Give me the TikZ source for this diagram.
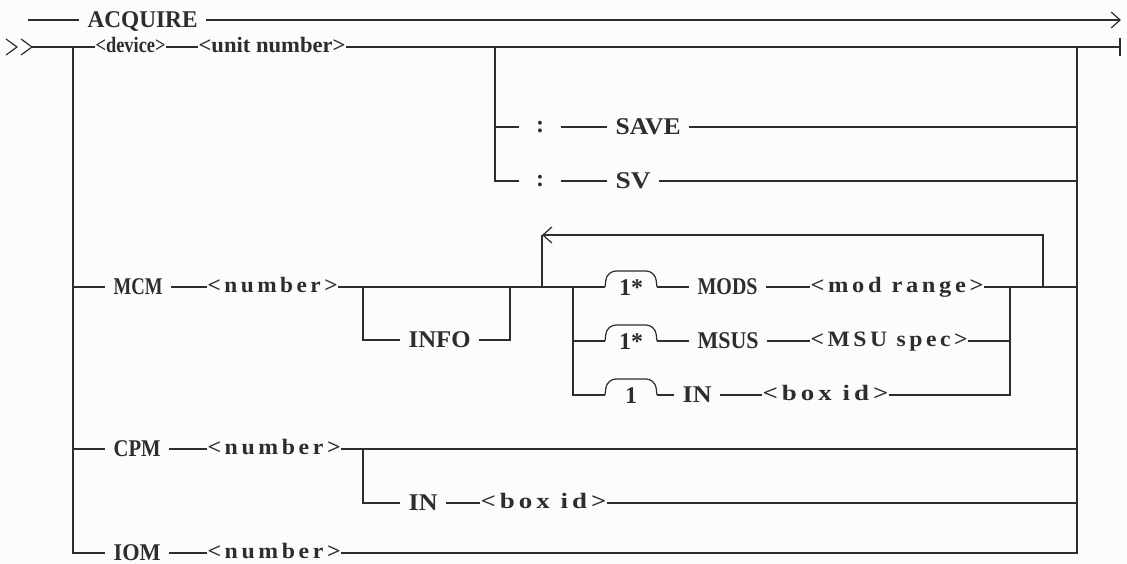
\documentclass[tikz,border=0pt]{standalone}
\usepackage{fontspec}
\setmainfont{Liberation Serif}
\newfontfamily\phfam[LetterSpace=15]{Liberation Serif}
\usepackage{graphicx}
\usetikzlibrary{arrows.meta}
\definecolor{ink}{RGB}{45,45,45}
\definecolor{paper}{RGB}{252,252,250}
\newcommand\kwf{\fontsize{24}{26}\selectfont\bfseries}
\newcommand\phf{\phfam\fontsize{22}{24}\selectfont\bfseries}
\newcommand\phtf{\fontsize{22}{24}\selectfont\bfseries}
\newcommand\fitto[2]{\resizebox{#1pt}{\height}{#2}}
\tikzset{
  kw/.style={anchor=west, inner xsep=8pt, inner ysep=0pt, text height=15.9pt, text depth=0pt, font=\kwf, text=ink},
  ph/.style={anchor=west, inner xsep=0pt, inner ysep=0pt, text height=11pt, text depth=0pt, font=\phf, text=ink},
  pht/.style={ph, font=\phtf},
  colonnode/.style={anchor=center, inner sep=0pt, minimum width=40pt, text height=11pt, text depth=0pt, font=\kwf, text=ink},
  repnode/.style={anchor=center, inner sep=0pt, text height=16pt, text depth=0pt, font=\kwf, text=ink},
  hump/.style={rounded corners=9pt},
  openarrow/.style={-{Straight Barb[length=9pt,width=16pt,line width=1.2pt]}},
}
\begin{document}
\begin{tikzpicture}[x=1pt,y=-1pt,line width=1.2pt,draw=ink]
\useasboundingbox[fill=paper] (0,0) rectangle (1127,564);
% top line
\coordinate (a0) at (28,20);
\node[kw] (acq) at (79,20) {\fitto{110}{ACQUIRE}};
\coordinate (a1) at (1121,20);
\draw (a0) -- (acq.west);
\draw[openarrow] (acq.east) -- (a1);
% start chevrons
\draw (6,39) -- (17,47) -- (6,55);
\draw (21,39) -- (32,47) -- (21,55);
\coordinate (start) at (32,47);
% row 1
\coordinate (tr1) at (73,47);
\node[pht] (dev) at (95,47) {\fitto{70}{<device>}};
\node[pht] (unit) at (198,47) {\fitto{147}{<unit number>}};
\coordinate (sb) at (495,47);
\coordinate (rc1) at (1077,47);
\coordinate (fin) at (1120,47);
\draw (start) -- (tr1) -- (dev.west);
\draw (dev.east) -- (unit.west);
\draw (unit.east) -- (fin);
\draw ([yshift=-9pt]fin) -- ([yshift=9pt]fin);
% SAVE / SV
\coordinate (sv1) at (495,127);
\coordinate (sv2) at (495,181);
\node[colonnode] (c1) at (540,127) {:};
\node[kw] (save) at (607,127) {\fitto{65}{SAVE}};
\coordinate (rs1) at (1077,127);
\node[colonnode] (c2) at (540,181) {:};
\node[kw] (sv) at (607,181) {\fitto{35}{SV}};
\coordinate (rs2) at (1077,181);
\draw (sb) -- (sv2) -- (c2.west);
\draw (sv1) -- (c1.west);
\draw (c1.east) -- (save.west);
\draw (save.east) -- (rs1);
\draw (c2.east) -- (sv.west);
\draw (sv.east) -- (rs2);
% MCM row
\coordinate (tm) at (73,287);
\node[kw] (mcm) at (105,287) {\fitto{49}{MCM}};
\node[ph] (mnum) at (207,287) {\fitto{130}{<number>}};
\coordinate (ib) at (363,287);
\coordinate (ir) at (510,287);
\coordinate (lp) at (542,287);
\coordinate (gb) at (573,287);
\draw (tm) -- (mcm.west);
\draw (mcm.east) -- (mnum.west);
\draw (mnum.east) -- (gb);
% INFO
\coordinate (ib2) at (363,340);
\node[kw] (info) at (400,340) {\fitto{62}{INFO}};
\coordinate (ir2) at (510,340);
\draw (ib) -- (ib2) -- (info.west);
\draw (info.east) -- (ir2) -- (ir);
% loop back
\coordinate (lt) at (542,235);
\coordinate (lrt) at (1043,235);
\coordinate (lrb) at (1043,287);
\draw (lp) -- (lt);
\draw[openarrow] (lrb) -- (lrt) -- (lt);
% group row 1: MODS
\coordinate (h1a) at (605,287);
\coordinate (h1b) at (657,287);
\draw (gb) -- (h1a);
\draw[hump] (h1a) -- ++(2,-16) -- ++(48,0) -- (h1b);
\node[repnode] (n1) at (631,287) {1*};
\node[kw] (mods) at (689,287) {\fitto{60}{MODS}};
\node[ph] (mr) at (810,287) {\fitto{173}{<mod range>}};
\coordinate (gc1) at (1010,287);
\coordinate (rm) at (1077,287);
\draw (h1b) -- (mods.west);
\draw (mods.east) -- (mr.west);
\draw (mr.east) -- (rm);
% group row 2: MSUS
\coordinate (g2) at (573,341);
\coordinate (h2a) at (605,341);
\coordinate (h2b) at (657,341);
\draw (g2) -- (h2a);
\draw[hump] (h2a) -- ++(2,-16) -- ++(48,0) -- (h2b);
\node[repnode] (n2) at (631,341) {1*};
\node[kw] (msus) at (689,341) {\fitto{61}{MSUS}};
\node[ph] (ms) at (810,341) {\fitto{157}{<MSU spec>}};
\coordinate (gc2) at (1010,341);
\draw (h2b) -- (msus.west);
\draw (msus.east) -- (ms.west);
\draw (ms.east) -- (gc2);
% group row 3: IN
\coordinate (g3) at (573,395);
\coordinate (h3a) at (605,395);
\coordinate (h3b) at (657,395);
\draw (gb) -- (g3) -- (h3a);
\draw[hump] (h3a) -- ++(2,-16) -- ++(48,0) -- (h3b);
\node[repnode] (n3) at (631,395) {1};
\node[kw] (in1) at (674,395) {\fitto{29}{IN}};
\node[ph] (bx1) at (762,395) {\fitto{126}{<box id>}};
\coordinate (gc3) at (1010,395);
\draw (h3b) -- (in1.west);
\draw (in1.east) -- (bx1.west);
\draw (bx1.east) -- (gc3) -- (gc1);
% CPM row
\coordinate (tc) at (73,449);
\node[kw] (cpm) at (105,449) {\fitto{47}{CPM}};
\node[ph] (cnum) at (207,449) {\fitto{133}{<number>}};
\coordinate (cb) at (363,449);
\coordinate (rcpm) at (1077,449);
\draw (tc) -- (cpm.west);
\draw (cpm.east) -- (cnum.west);
\draw (cnum.east) -- (rcpm);
% IN row 2
\coordinate (cb2) at (363,503);
\node[kw] (in2) at (400,503) {\fitto{29}{IN}};
\node[ph] (bx2) at (480,503) {\fitto{126}{<box id>}};
\coordinate (rin) at (1077,503);
\draw (cb) -- (cb2) -- (in2.west);
\draw (in2.east) -- (bx2.west);
\draw (bx2.east) -- (rin);
% IOM row
\coordinate (ti) at (73,553);
\node[kw] (iom) at (105,553) {\fitto{47}{IOM}};
\node[ph] (inum) at (207,553) {\fitto{133}{<number>}};
\coordinate (riom) at (1077,553);
\draw (tr1) -- (ti) -- (iom.west);
\draw (iom.east) -- (inum.west);
\draw (inum.east) -- (riom) -- (rc1);
\end{tikzpicture}
\end{document}
